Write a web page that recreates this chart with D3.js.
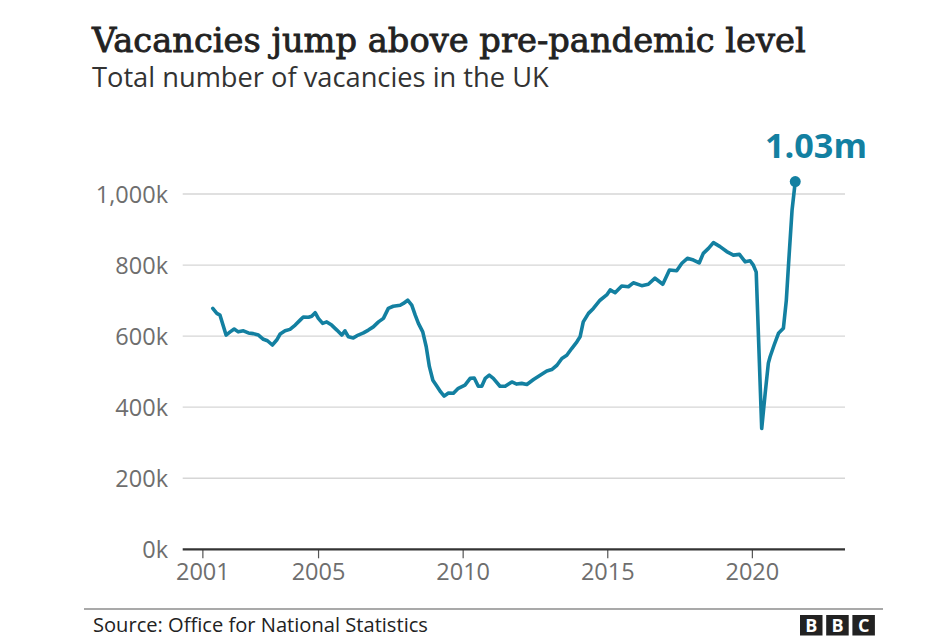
<!DOCTYPE html>
<html>
<head>
<meta charset="utf-8">
<script src="https://cdn.jsdelivr.net/npm/d3@7"></script>
<style>
  body { margin: 0; background: #fff; }
  svg { display: block; }
</style>
</head>
<body>
<div id="chart"></div>
<script>
// vacancies, thousands (decimal year -> value)
const years = [
  2001.36, 2001.50, 2001.61, 2001.82, 2001.96, 2002.10, 2002.24, 2002.42, 2002.59, 2002.76,
  2002.94, 2003.11, 2003.25, 2003.42, 2003.57, 2003.69, 2003.86, 2004.03, 2004.21, 2004.38,
  2004.49, 2004.67, 2004.78, 2004.90, 2005.01, 2005.16, 2005.30, 2005.47, 2005.65, 2005.82,
  2005.93, 2006.05, 2006.22, 2006.39, 2006.57, 2006.74, 2006.91, 2007.09, 2007.26, 2007.43,
  2007.60, 2007.84, 2007.95, 2008.10, 2008.24, 2008.36, 2008.47, 2008.62, 2008.74, 2008.85,
  2008.97, 2009.11, 2009.24, 2009.36, 2009.51, 2009.68, 2009.85, 2010.08, 2010.26, 2010.40,
  2010.54, 2010.66, 2010.78, 2010.92, 2011.06, 2011.29, 2011.47, 2011.70, 2011.87, 2012.04,
  2012.22, 2012.45, 2012.68, 2012.91, 2013.08, 2013.26, 2013.43, 2013.60, 2013.77, 2013.95,
  2014.06, 2014.17, 2014.35, 2014.52, 2014.75, 2014.98, 2015.10, 2015.27, 2015.50, 2015.73,
  2015.90, 2016.19, 2016.42, 2016.65, 2016.92, 2017.15, 2017.40, 2017.58, 2017.77, 2017.98,
  2018.18, 2018.32, 2018.50, 2018.67, 2018.90, 2019.13, 2019.36, 2019.57, 2019.77, 2019.94,
  2020.05, 2020.15, 2020.34, 2020.46, 2020.57, 2020.63, 2020.77, 2020.92, 2021.09, 2021.19,
  2021.27, 2021.39, 2021.50
];
const vacancies = [
  678, 664, 659, 603, 612, 620, 612, 615, 609, 607,
  603, 591, 587, 575, 589, 606, 615, 619, 631, 645,
  654, 653, 656, 666, 650, 636, 640, 631, 617, 603,
  615, 598, 595, 603, 609, 617, 626, 640, 650, 678,
  684, 687, 692, 701, 687, 659, 636, 612, 570, 514,
  476, 459, 443, 431, 440, 439, 453, 462, 481, 482,
  459, 459, 481, 490, 481, 459, 459, 471, 465, 467,
  464, 478, 490, 502, 506, 518, 537, 546, 565, 584,
  598, 640, 664, 678, 701, 716, 730, 722, 741, 739,
  750, 742, 746, 763, 746, 786, 784, 805, 819, 814,
  806, 833, 847, 863, 852, 838, 828, 830, 809, 812,
  800, 780, 340, 439, 524, 542, 575, 608, 622, 700,
  805, 955, 1035
];
const yTicks = [0, 200, 400, 600, 800, 1000];
const xTicks = [2001, 2005, 2010, 2015, 2020];
const lastLabel = '1.03m';

const W = 936, H = 643;
const teal = '#1380a1';

const svg = d3.select('#chart').append('svg')
  .attr('width', W)
  .attr('height', H);

// stretch or shrink a text's font size until it spans the given width
function fitWidth(sel, w) {
  const len = sel.node().getComputedTextLength();
  const fs = parseFloat(sel.attr('font-size'));
  sel.attr('font-size', fs * w / len);
}

// scales
const x = d3.scaleLinear()
  .domain([2000.32, 2023.22])
  .range([182.7, 845]);
const y = d3.scaleLinear()
  .domain([0, 1000])
  .range([549.3, 194]);

// titles
const title = svg.append('text')
  .attr('x', 92).attr('y', 52)
  .attr('font-family', 'DejaVu Serif')
  .attr('font-size', 32)
  .attr('fill', '#222')
  .style('stroke', '#222')
  .style('stroke-width', 0.8)
  .text('Vacancies jump above pre-pandemic level');
fitWidth(title, 714);

const sub = svg.append('text')
  .attr('x', 92).attr('y', 87)
  .attr('font-family', 'Open Sans')
  .attr('font-size', 22)
  .attr('fill', '#333')
  .text('Total number of vacancies in the UK');
fitWidth(sub, 457);

// gridlines
svg.append('g').selectAll('line')
  .data(yTicks.filter(d => d > 0))
  .enter().append('line')
    .attr('x1', x.range()[0]).attr('x2', x.range()[1])
    .attr('y1', d => y(d)).attr('y2', d => y(d))
    .style('stroke', '#d6d6d6')
    .style('stroke-width', 1.3);

// y labels
svg.append('g').selectAll('text')
  .data(yTicks)
  .enter().append('text')
    .attr('x', 168)
    .attr('y', d => y(d) + 8.5)
    .attr('text-anchor', 'end')
    .attr('font-family', 'Open Sans')
    .attr('font-size', 23.5)
    .attr('fill', '#6e6e6e')
    .text(d => d3.format(',')(d) + 'k');

// x axis
const xAxis = d3.axisBottom(x)
  .tickValues(xTicks)
  .tickFormat(d3.format('d'))
  .tickSize(9)
  .tickPadding(5);
const gx = svg.append('g')
  .attr('transform', `translate(0, ${y(0)})`)
  .call(xAxis);
gx.select('.domain').remove();
gx.selectAll('.tick line').style('stroke', '#555').style('stroke-width', 1.2);
gx.selectAll('.tick text')
  .attr('font-family', 'Open Sans')
  .attr('font-size', 23.5)
  .attr('fill', '#6e6e6e');
svg.append('line')
  .attr('x1', x.range()[0]).attr('x2', x.range()[1])
  .attr('y1', y(0)).attr('y2', y(0))
  .style('stroke', '#333')
  .style('stroke-width', 2.2);

// the line
const pts = years.map((yr, i) => [yr, vacancies[i]]);
svg.append('path')
  .datum(pts)
  .attr('d', d3.line().x(d => x(d[0])).y(d => y(d[1])))
  .style('fill', 'none')
  .style('stroke', teal)
  .style('stroke-width', 3.6)
  .style('stroke-linejoin', 'round')
  .style('stroke-linecap', 'round');

// last point + label
const last = pts[pts.length - 1];
svg.append('circle')
  .attr('cx', x(last[0])).attr('cy', y(last[1]))
  .attr('r', 5.5)
  .style('fill', teal);
const lbl = svg.append('text')
  .attr('x', 816).attr('y', 158)
  .attr('text-anchor', 'middle')
  .attr('font-family', 'Open Sans')
  .attr('font-weight', 'bold')
  .attr('font-size', 30)
  .attr('fill', teal)
  .text(lastLabel);
fitWidth(lbl, 102);

// footer
svg.append('line')
  .attr('x1', 84).attr('x2', 883)
  .attr('y1', 609).attr('y2', 609)
  .style('stroke', '#555')
  .style('stroke-width', 1.2);
const src = svg.append('text')
  .attr('x', 93).attr('y', 632)
  .attr('font-family', 'Open Sans')
  .attr('font-size', 18)
  .attr('fill', '#222')
  .text('Source: Office for National Statistics');
fitWidth(src, 335);

// BBC blocks
const logo = svg.append('g').attr('transform', 'translate(800, 615)');
logo.selectAll('g')
  .data(['B', 'B', 'C'])
  .enter().append('g')
    .attr('transform', (d, i) => `translate(${i * 26.2}, 0)`)
    .each(function(d) {
      const g = d3.select(this);
      g.append('rect').attr('width', 22.5).attr('height', 20.5).style('fill', '#222');
      g.append('text')
        .attr('x', 11.25).attr('y', 17)
        .attr('text-anchor', 'middle')
        .attr('font-family', 'Open Sans')
        .attr('font-weight', 'bold')
        .attr('font-size', 18)
        .attr('fill', '#fff')
        .text(d);
    });
</script>
</body>
</html>
